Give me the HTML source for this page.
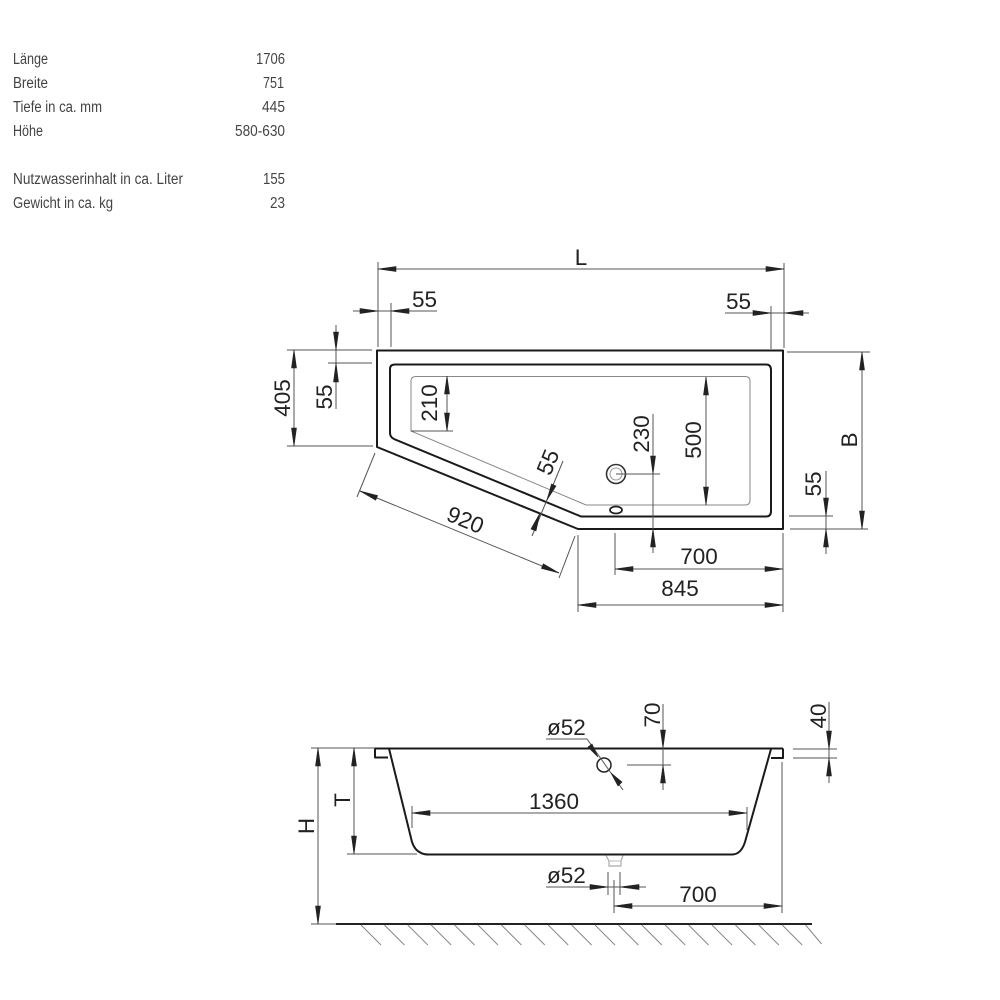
<!DOCTYPE html>
<html><head><meta charset="utf-8"><style>
html,body{margin:0;padding:0;background:#fff;width:1000px;height:1000px;overflow:hidden}
svg{display:block}
.t{font-family:"Liberation Sans",sans-serif;font-size:15.5px;fill:#444}
.d{font-family:"Liberation Sans",sans-serif;font-size:22.5px;fill:#222}
.m{text-anchor:middle}
.e{text-anchor:end}
.th{stroke:#555;stroke-width:1;fill:none}
.gr{stroke:#888;stroke-width:1;fill:none}
.k{stroke:#1a1a1a;stroke-width:2;fill:none;stroke-linejoin:round}
.a{fill:#222;stroke:#222;stroke-width:.6}
</style></head><body>
<svg width="1000" height="1000" viewBox="0 0 1000 1000" xmlns="http://www.w3.org/2000/svg">
<rect width="1000" height="1000" fill="#fff"/>
<g style="filter:blur(.35px)">
<text class="t" x="13" y="64" textLength="35" lengthAdjust="spacingAndGlyphs">Länge</text>
<text class="t" x="13" y="88" textLength="35" lengthAdjust="spacingAndGlyphs">Breite</text>
<text class="t" x="13" y="112" textLength="89" lengthAdjust="spacingAndGlyphs">Tiefe in ca. mm</text>
<text class="t" x="13" y="136" textLength="30" lengthAdjust="spacingAndGlyphs">Höhe</text>
<text class="t" x="13" y="184" textLength="170" lengthAdjust="spacingAndGlyphs">Nutzwasserinhalt in ca. Liter</text>
<text class="t" x="13" y="208" textLength="100" lengthAdjust="spacingAndGlyphs">Gewicht in ca. kg</text>
<text class="t" x="256" y="64" textLength="29" lengthAdjust="spacingAndGlyphs">1706</text>
<text class="t" x="263" y="88" textLength="21" lengthAdjust="spacingAndGlyphs">751</text>
<text class="t" x="262" y="112" textLength="23" lengthAdjust="spacingAndGlyphs">445</text>
<text class="t" x="235" y="136" textLength="50" lengthAdjust="spacingAndGlyphs">580-630</text>
<text class="t" x="263" y="184" textLength="22" lengthAdjust="spacingAndGlyphs">155</text>
<text class="t" x="270" y="208" textLength="15" lengthAdjust="spacingAndGlyphs">23</text>

<!-- top view outlines -->
<path class="k" d="M377 350.500H783V529H578L377 447Z"/>
<path class="k" d="M395 364.500H766Q771 364.500 771 370V511Q771 516.500 766 516.500H581L394 439Q390 437 390 433V369Q390 364.500 395 364.500Z"/>
<path class="gr" d="M416 376.500H745Q750 376.500 750 381V500Q750 505 745 505H586L411 431V381Q411 376.500 416 376.500Z"/>
<circle cx="616" cy="474" r="9.500" fill="none" stroke="#333" stroke-width="1.600"/>
<circle cx="616" cy="474" r="6" fill="none" stroke="#999" stroke-width="1"/>
<ellipse cx="616" cy="510" rx="6" ry="3.500" fill="none" stroke="#222" stroke-width="1.800"/>

<!-- top view dimension lines -->
<path class="th" d="M378 269H784M378 262V347M784 263V348
M353 311H437M391 303V347
M725 313H809M771 306V349
M294 350V446M287 350H372M287 446H373
M336 325V409M328 363H372
M447 376V431M411 431H453
M360 491L559 573M375 453L357 497M575 536L559 578
M532 536L563 461
M653 414V553M616 474H660
M706 377V505
M862 352V529M787 352H870M790 529H868
M826 471V554M789 516H833
M615 569H783M615 533V575
M578 605H783M578 535V612M783 533V612"/>
<g class="a">
<polygon points="378,269 396,266.500 396,271.500"/><polygon points="784,269 766,266.500 766,271.500"/>
<polygon points="378,311 360,308.500 360,313.500"/><polygon points="391,311 409,308.500 409,313.500"/>
<polygon points="771,313 753,310.500 753,315.500"/><polygon points="784,313 803,310.500 803,315.500"/>
<polygon points="294,350 291.500,368 296.500,368"/><polygon points="294,446 291.500,428 296.500,428"/>
<polygon points="336,350 333.500,332 338.500,332"/><polygon points="336,363 333.500,382 338.500,382"/>
<polygon points="447,376 444.500,394 449.500,394"/><polygon points="447,431 444.500,413 449.500,413"/>
<polygon points="360,491 377.600,495.600 375.700,500.200"/><polygon points="559,573 541.400,568.400 543.300,563.800"/>
<polygon points="547,500 551.500,484 556,486"/><polygon points="540,513 531,529 536,531"/>
<polygon points="653,474 650.500,456 655.500,456"/><polygon points="653,529 650.500,547 655.500,547"/>
<polygon points="706,377 703.500,395 708.500,395"/><polygon points="706,505 703.500,487 708.500,487"/>
<polygon points="862,352 859.500,370 864.500,370"/><polygon points="862,529 859.500,511 864.500,511"/>
<polygon points="826,516 823.500,498 828.500,498"/><polygon points="826,529 823.500,547 828.500,547"/>
<polygon points="615,569 633,566.500 633,571.500"/><polygon points="783,569 765,566.500 765,571.500"/>
<polygon points="578,605 596,602.500 596,607.500"/><polygon points="783,605 765,602.500 765,607.500"/>
</g>

<!-- top view labels -->
<text class="d m" x="581" y="265">L</text>
<text class="d m" x="424.500" y="307">55</text>
<text class="d m" x="738.500" y="309">55</text>
<text class="d m" x="699" y="564">700</text>
<text class="d m" x="680" y="596">845</text>
<text class="d m" transform="translate(290 398) rotate(-90)">405</text>
<text class="d m" transform="translate(332 397) rotate(-90)">55</text>
<text class="d m" transform="translate(437 403) rotate(-90)">210</text>
<text class="d m" transform="translate(649 434) rotate(-90)">230</text>
<text class="d m" transform="translate(701 440) rotate(-90)">500</text>
<text class="d m" transform="translate(857 440) rotate(-90)">B</text>
<text class="d m" transform="translate(821 484) rotate(-90)">55</text>
<text class="d m" transform="translate(462.500 527) rotate(22.400)">920</text>
<text class="d m" transform="translate(555 465) rotate(-67.600)">55</text>

<!-- side view -->
<path class="k" d="M375 748.500H783M375 748.500V757.500H388M783 748.500V758H771M389 748.500L412 842Q416 854.500 429 854.500H732Q741 854.500 745 842L771 749"/>
<path d="M336 924H812" stroke="#222" stroke-width="2" fill="none"/>
<path class="th" d="M311 748H375M311 924H336"/>
<path class="gr" stroke="#666" d="M361 925l20 20M384.400 925l20 20M407.800 925l20 20M431.200 925l20 20M454.600 925l20 20M478 925l20 20M501.400 925l20 20M524.800 925l20 20M548.200 925l20 20M571.600 925l20 20M595 925l20 20M618.400 925l20 20M641.800 925l20 20M665.200 925l20 20M688.600 925l20 20M712 925l20 20M735.400 925l20 20M758.800 925l20 20M782.200 925l20 20M805.600 925l16 19"/>
<path d="M606 855.500L609 861V866H621V861L623 855.500" fill="none" stroke="#aaa" stroke-width="1.200"/>
<path d="M609 861H621" stroke="#bbb" stroke-width="1"/>
<circle cx="604" cy="765" r="7" fill="#fff" stroke="#222" stroke-width="1.500"/>

<path class="th" d="M318 748V924M354 748V854M347 854H417
M412 813H747M412 806V828M747 807V830
M546 739H587L623 790
M663 704V790M627 765H671
M829 702V783M793 749H837M793 758H837
M546 887H646M608 872V895M620 872V895
M614 906H782M614 880V913M782 762V913"/>
<g class="a">
<polygon points="318,748 315.500,766 320.500,766"/><polygon points="318,924 315.500,906 320.500,906"/>
<polygon points="354,748 351.500,766 356.500,766"/><polygon points="354,854 351.500,836 356.500,836"/>
<polygon points="412,813 430,810.500 430,815.500"/><polygon points="747,813 729,810.500 729,815.500"/>
<polygon points="598,757 588,747 592,744"/><polygon points="611,773 622,782 618,786"/>
<polygon points="663,748 660.500,730 665.500,730"/><polygon points="663,765 660.500,783 665.500,783"/>
<polygon points="829,749 826.500,731 831.500,731"/><polygon points="829,758 826.500,776 831.500,776"/>
<polygon points="608,887 590,884.500 590,889.500"/><polygon points="620,887 639,884.500 639,889.500"/>
<polygon points="614,906 632,903.500 632,908.500"/><polygon points="782,906 764,903.500 764,908.500"/>
</g>
<text class="d m" x="554" y="809">1360</text>
<text class="d m" x="698" y="902">700</text>
<text class="d" x="547" y="735">ø52</text>
<text class="d" x="547" y="883">ø52</text>
<text class="d m" transform="translate(660 715) rotate(-90)">70</text>
<text class="d m" transform="translate(826 716) rotate(-90)">40</text>
<text class="d m" transform="translate(350 800) rotate(-90)">T</text>
<text class="d m" transform="translate(314 826) rotate(-90)">H</text>
</g>
</svg>
</body></html>
